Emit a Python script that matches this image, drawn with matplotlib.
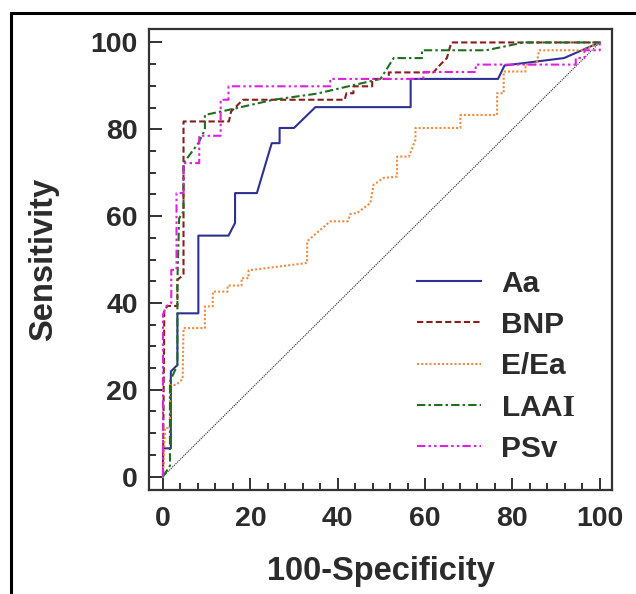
import matplotlib
matplotlib.use("Agg")
import matplotlib.pyplot as plt
from matplotlib.lines import Line2D
from matplotlib.ticker import MultipleLocator

plt.rcParams['font.family'] = ['Liberation Sans', 'DejaVu Sans']
plt.rcParams['mathtext.fontset'] = 'stix'

# ---- data ----
series_names = ["Aa", "BNP", "E/Ea", "LAA$\\mathbf{I}$", "PSv"]

aa_x = [0, 0, 1.8, 1.8, 3.3, 3.3, 8.1, 8.1, 15.0, 16.5, 16.5, 21.5, 24.9, 26.7, 26.7,
        30.0, 34.9, 56.7, 56.7, 76.7, 78.2, 91.8, 100]
aa_y = [0, 6.5, 6.5, 24.2, 25.7, 37.6, 37.6, 55.5, 55.5, 58.4, 65.3, 65.3, 76.8, 76.8, 80.3,
        80.3, 85.1, 85.1, 91.6, 91.6, 94.7, 96.4, 100]

bnp_x = [0, 0.3, 1.0, 3.3, 3.3, 4.7, 4.7, 15.1, 15.6, 18.3, 41.6, 42.0, 43.6, 43.6, 47.9,
         47.9, 51.7, 51.7, 61.9, 63.5, 65.0, 66.0, 100]
bnp_y = [0, 38.0, 39.3, 39.3, 45.3, 46.5, 81.8, 81.8, 84.1, 86.8, 86.8, 88.3, 88.3, 89.9, 89.9,
         91.6, 91.6, 93.1, 93.1, 94.9, 96.4, 100, 100]

eea_x = [0, 0.5, 1.6, 1.6, 3.0, 4.5, 4.7, 9.6, 9.6, 11.4, 11.4, 14.8, 14.8, 18.0, 18.0,
         19.6, 19.6, 33.0, 33.0, 38.3, 42.3, 42.9, 44.4, 47.5, 48.2, 50.5, 53.6, 53.6,
         56.3, 57.8, 57.8, 68.1, 68.1, 76.5, 76.5, 78.0, 78.0, 83.0, 83.0, 85.5, 86.1, 96.3, 100]
eea_y = [0, 11.2, 11.2, 21.1, 21.1, 22.5, 34.2, 34.2, 39.2, 39.2, 42.6, 42.6, 44.0, 44.0, 45.7,
         45.7, 47.5, 49.2, 54.2, 58.8, 58.8, 60.5, 60.7, 63.0, 67.2, 68.8, 69.1, 73.7,
         73.7, 77.6, 80.3, 80.3, 83.3, 83.3, 88.3, 88.3, 93.3, 93.3, 94.9, 94.9, 98.2, 98.2, 100]

laai_x = [0, 1.6, 1.6, 3.3, 3.3, 3.7, 4.7, 4.7, 8.1, 9.6, 9.6, 16.1, 25.3, 35.2, 42.9,
          49.8, 52.8, 59.3, 59.3, 74.0, 82.6, 100]
laai_y = [0, 2.5, 21.9, 25.7, 45.0, 59.5, 61.1, 72.2, 76.8, 79.9, 83.3, 84.7, 86.8, 88.2, 90.0,
          91.6, 96.4, 96.4, 98.2, 98.2, 100, 100]

psv_x = [0, 0, 0.7, 1.9, 1.9, 3.1, 3.1, 4.7, 4.7, 8.3, 8.3, 13.2, 13.2, 15.0, 15.0, 38.3,
         38.3, 59.6, 59.6, 71.6, 71.6, 94.5, 94.5, 96.5, 96.5, 100, 100]
psv_y = [0, 37.3, 39.2, 40.0, 47.6, 47.6, 65.3, 65.3, 72.2, 72.2, 78.5, 78.5, 86.8, 86.8, 89.9, 89.9,
         91.6, 91.6, 93.2, 93.2, 94.9, 94.9, 96.4, 96.4, 98.2, 98.2, 100]

diag_x = [0, 100]
diag_y = [0, 100]

x_ticks = [0, 20, 40, 60, 80, 100]
y_ticks = [0, 20, 40, 60, 80, 100]

# ---- styles ----
text_col = '#2b2b2b'
styles = [
    dict(color='#2e3192', ls='-', lw=1.5),
    dict(color='#8b1c1c', ls=(0, (3, 1.5)), lw=1.5),
    dict(color='#f08a3c', ls=(0, (1, 1)), lw=1.5),
    dict(color='#1f6e1f', ls=(0, (4, 1.5, 1.2, 1.5)), lw=1.5),
    dict(color='#e020e0', ls=(0, (4, 1.5, 1.2, 1.5, 1.2, 1.5)), lw=1.5),
]
series = [(aa_x, aa_y), (bnp_x, bnp_y), (eea_x, eea_y), (laai_x, laai_y), (psv_x, psv_y)]

fig = plt.figure(figsize=(6.36, 5.94), dpi=100)
ax = fig.add_axes([149/636, 1-490/594, (612-149)/636, (490-29)/594])

ax.plot(diag_x, diag_y, color='#222222', ls=(0, (1, 1)), lw=0.8)
handles = []
for (x, y), st, name in zip(series, styles, series_names):
    h, = ax.plot(x, y, label=name, **st)
    handles.append(h)

ax.set_xlim(-3.2, 102.8)
ax.set_ylim(-3.1, 103.1)
ax.set_xticks(x_ticks)
ax.set_yticks(y_ticks)
ax.xaxis.set_minor_locator(MultipleLocator(4))
ax.yaxis.set_minor_locator(MultipleLocator(5))
ax.tick_params(which='both', direction='in', color='#333333', width=1.4,
               labelsize=20.5, labelcolor=text_col)
ax.tick_params(which='major', length=9)
ax.tick_params(which='minor', length=5)
ax.tick_params(axis='x', pad=11.5)
ax.tick_params(axis='y', pad=8)
for lab in ax.get_xticklabels() + ax.get_yticklabels():
    lab.set_fontweight('bold')
for sp in ax.spines.values():
    sp.set_color('#333333')
    sp.set_linewidth(1.6)

ax.set_xlabel('100-Specificity', fontsize=23.5, fontweight='bold', color=text_col, labelpad=17)
ax.set_ylabel('Sensitivity', fontsize=23.5, fontweight='bold', color=text_col, labelpad=23)

leg = ax.legend(handles=handles, loc='upper left', bbox_to_anchor=(0.578, 0.478),
                frameon=False, fontsize=21.5, handlelength=2.17, handletextpad=0.67,
                labelspacing=0.445, borderpad=0, borderaxespad=0)
for t in leg.get_texts():
    t.set_fontweight('bold')
    t.set_color(text_col)

# figure border (top and left)
fig.add_artist(Line2D([11/636, 1], [1-13/594, 1-13/594], color='black', lw=2.2,
                      transform=fig.transFigure))
fig.add_artist(Line2D([11/636, 11/636], [0, 1-13/594], color='black', lw=2.2,
                      transform=fig.transFigure))

fig.savefig('out.png', dpi=100)
